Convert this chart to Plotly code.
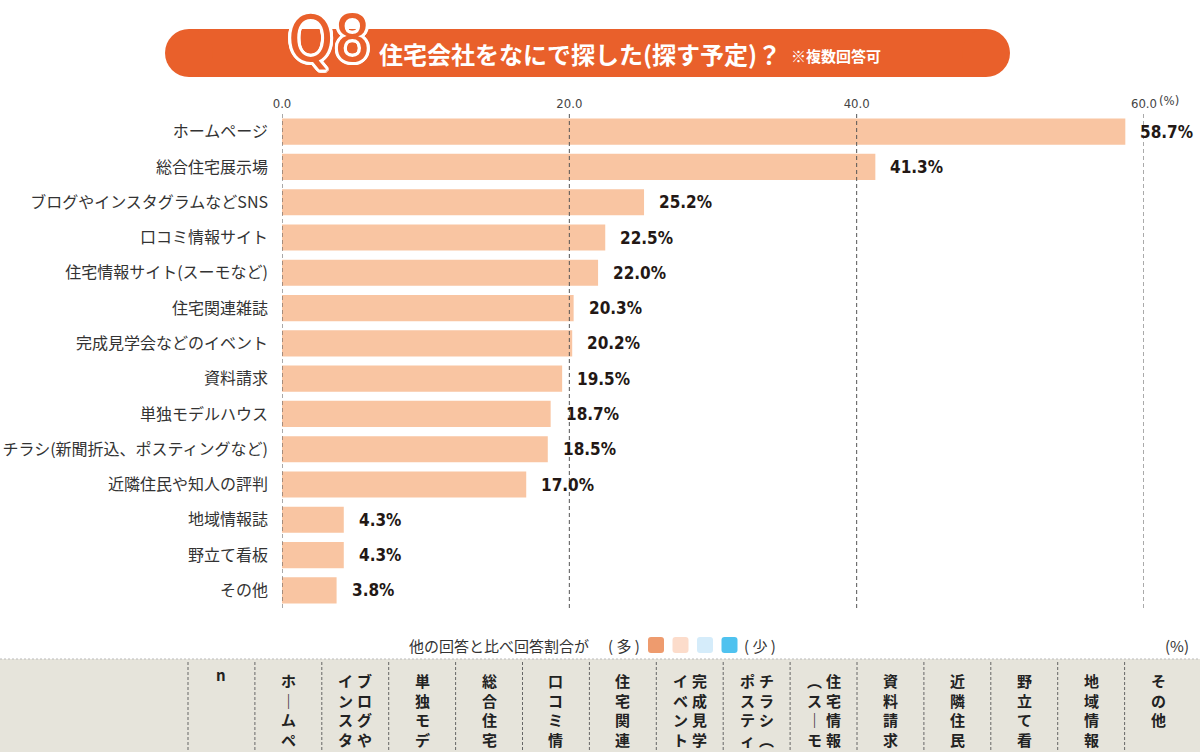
import plotly.graph_objects as go

# ---------------- data ----------------
categories = ["ホームページ", "総合住宅展示場", "ブログやインスタグラムなどSNS", "口コミ情報サイト",
              "住宅情報サイト(スーモなど)", "住宅関連雑誌", "完成見学会などのイベント", "資料請求",
              "単独モデルハウス", "チラシ(新聞折込、ポスティングなど)", "近隣住民や知人の評判",
              "地域情報誌", "野立て看板", "その他"]
values = [58.7, 41.3, 25.2, 22.5, 22.0, 20.3, 20.2, 19.5, 18.7, 18.5, 17.0, 4.3, 4.3, 3.8]
tick_vals = [0, 20, 40, 60]
tick_text = ["0.0", "20.0", "40.0", "60.0"]

# table header columns (each entry: vertical text columns, right-to-left)
table_headers = [["n"], ["ホームページ"], ["ブログや", "インスタグラム"], ["単独モデルハウス"],
                 ["総合住宅展示場"], ["口コミ情報サイト"], ["住宅関連雑誌"],
                 ["完成見学会などの", "イベント"], ["チラシ︵新聞折込、", "ポスティングなど︶"],
                 ["住宅情報サイト", "︵スーモなど︶"], ["資料請求"], ["近隣住民や知人の評判"],
                 ["野立て看板"], ["地域情報誌"], ["その他"]]
legend_colors = ["#EE9B6E", "#FCDCCB", "#D5ECFA", "#4FC2EF"]

title_main = "住宅会社をなにで探した(探す予定)？"
title_note = "※複数回答可"

# ---------------- geometry helpers ----------------
W, H = 1200, 752
L, R, T, B = 282, 1144, 114, 608
JP = "Noto Sans CJK JP"
NUM = "DejaVu Sans Condensed, Liberation Sans Narrow, Roboto Condensed, Roboto"
ORANGE = "#E9602B"


def px_x(px):
    return (px - L) / (R - L)


def px_y(py):
    return (B - py) / (B - T)


fig = go.Figure(go.Bar(
    x=values, y=categories, orientation="h",
    marker=dict(color="#F9C5A2", line=dict(width=0)),
    width=0.74, hoverinfo="skip"))

shapes = []
annotations = []

# dashed gridlines drawn above bars
for v in tick_vals:
    shapes.append(dict(type="line", xref="x", yref="paper", x0=v, x1=v, y0=0, y1=1.0,
                       line=dict(color="#555555", width=1, dash="4px,3px"), layer="above"))

# value labels
for c, v in zip(categories, values):
    annotations.append(dict(x=v, y=c, xref="x", yref="y", text=f"{v:.1f}%", showarrow=False,
                            xanchor="left", xshift=13,
                            font=dict(family=NUM, size=17, color="#231815", weight="bold")))

# (%) after 60.0
annotations.append(dict(x=60, y=px_y(101), xref="x", yref="paper", text="(%)", showarrow=False,
                        xanchor="left", xshift=13, yanchor="middle",
                        font=dict(family=NUM, size=13, color="#444")))

# ---------------- title pill ----------------
def rect_px(x0, y0, x1, y1, color, **kw):
    d = dict(type="rect", xref="paper", yref="paper",
             x0=px_x(x0), x1=px_x(x1), y0=px_y(y1), y1=px_y(y0),
             fillcolor=color, line=dict(width=0), layer="above")
    d.update(kw)
    return d


def rrect_path(x0, y0, x1, y1, r):
    pts = []
    pts.append(f"M{px_x(x0 + r)},{px_y(y0)}")
    pts.append(f"L{px_x(x1 - r)},{px_y(y0)}")
    pts.append(f"Q{px_x(x1)},{px_y(y0)} {px_x(x1)},{px_y(y0 + r)}")
    pts.append(f"L{px_x(x1)},{px_y(y1 - r)}")
    pts.append(f"Q{px_x(x1)},{px_y(y1)} {px_x(x1 - r)},{px_y(y1)}")
    pts.append(f"L{px_x(x0 + r)},{px_y(y1)}")
    pts.append(f"Q{px_x(x0)},{px_y(y1)} {px_x(x0)},{px_y(y1 - r)}")
    pts.append(f"L{px_x(x0)},{px_y(y0 + r)}")
    pts.append(f"Q{px_x(x0)},{px_y(y0)} {px_x(x0 + r)},{px_y(y0)}")
    return " ".join(pts) + " Z"


shapes.append(rect_px(189, 29, 986, 77, ORANGE))
shapes.append(dict(type="circle", xref="paper", yref="paper", x0=px_x(165), x1=px_x(213),
                   y0=px_y(77), y1=px_y(29), fillcolor=ORANGE, line=dict(width=0), layer="above"))
shapes.append(dict(type="circle", xref="paper", yref="paper", x0=px_x(962), x1=px_x(1010),
                   y0=px_y(77), y1=px_y(29), fillcolor=ORANGE, line=dict(width=0), layer="above"))

outline = ", ".join(f"{dx}px {dy}px 0 #ffffff" for dx, dy in
                    [(3, 0), (-3, 0), (0, 3), (0, -3), (2, 2), (-2, -2), (2, -2), (-2, 2),
                     (3, 1), (-3, 1), (3, -1), (-3, -1), (1, 3), (1, -3), (-1, 3), (-1, -3)])
for ch, cx in (("Q", 310), ("8", 352)):
    annotations.append(dict(x=px_x(cx), y=px_y(39), xref="paper", yref="paper", text=ch,
                            showarrow=False, xanchor="center", yanchor="middle",
                            font=dict(family="DejaVu Sans Condensed, Roboto", size=64,
                                      color=ORANGE, weight=300, shadow=outline)))
annotations.append(dict(x=px_x(377), y=px_y(54), xref="paper", yref="paper", text=title_main,
                        showarrow=False, xanchor="left", yanchor="middle",
                        font=dict(family=JP, size=24, color="white", weight="bold")))
annotations.append(dict(x=px_x(789), y=px_y(56), xref="paper", yref="paper", text=title_note,
                        showarrow=False, xanchor="left", yanchor="middle",
                        font=dict(family=JP, size=15, color="white", weight="bold")))

# ---------------- legend row ----------------
annotations.append(dict(x=px_x(591), y=px_y(645), xref="paper", yref="paper",
                        text="他の回答と比べ回答割合が", showarrow=False, xanchor="right",
                        yanchor="middle", font=dict(family=JP, size=15, color="#333")))
annotations.append(dict(x=px_x(606), y=px_y(645), xref="paper", yref="paper", text="( 多 )",
                        showarrow=False, xanchor="left", yanchor="middle",
                        font=dict(family=JP, size=15, color="#333")))
for i, col in enumerate(legend_colors):
    x0 = 648 + i * 24.5
    shapes.append(dict(type="path", xref="paper", yref="paper",
                       path=rrect_path(x0, 637, x0 + 16, 653, 3),
                       fillcolor=col, line=dict(width=0), layer="above"))
annotations.append(dict(x=px_x(742), y=px_y(645), xref="paper", yref="paper", text="( 少 )",
                        showarrow=False, xanchor="left", yanchor="middle",
                        font=dict(family=JP, size=15, color="#333")))
annotations.append(dict(x=px_x(1191), y=px_y(645), xref="paper", yref="paper", text="(%)",
                        showarrow=False, xanchor="right", yanchor="middle",
                        font=dict(family=JP, size=15, color="#333")))

# ---------------- table header band ----------------
shapes.append(rect_px(0, 659, 1200, 760, "#E6E4DB"))
shapes.append(dict(type="line", xref="paper", yref="paper", x0=px_x(0), x1=px_x(1200),
                   y0=px_y(659), y1=px_y(659),
                   line=dict(color="#BBBBBB", width=1, dash="2px,2px"), layer="above"))
col_left, col_w = 188, 66.9
for i in range(len(table_headers)):
    xs = col_left + i * col_w
    shapes.append(dict(type="line", xref="paper", yref="paper", x0=px_x(xs), x1=px_x(xs),
                       y0=px_y(662), y1=px_y(760),
                       line=dict(color="#666666", width=1, dash="3px,2px"), layer="above"))


def vertical(s):
    # only the top of each header is visible above the page edge
    return "<br>".join("｜" if ch == "ー" else ch for ch in s[:4])


for i, cols in enumerate(table_headers):
    cx = col_left + (i + 0.5) * col_w
    if cols == ["n"]:
        annotations.append(dict(x=px_x(cx), y=px_y(662), xref="paper", yref="paper", text="n",
                                showarrow=False, xanchor="center", yanchor="top",
                                font=dict(family=JP, size=15, color="#222", weight="bold")))
        continue
    n = len(cols)
    for j, s in enumerate(cols):
        off = 0 if n == 1 else (9.5 if j == 0 else -9.5)
        annotations.append(dict(x=px_x(cx + off), y=px_y(669), xref="paper", yref="paper",
                                text=vertical(s), showarrow=False, xanchor="center",
                                yanchor="top", align="center", borderpad=0,
                                font=dict(family=JP, size=15, color="#222", weight="bold")))

fig.update_layout(
    template="none",
    width=W, height=H,
    margin=dict(l=L, r=W - R, t=T, b=H - B, pad=0),
    paper_bgcolor="white", plot_bgcolor="white",
    showlegend=False,
    bargap=0.26,
    xaxis=dict(range=[0, 60], side="top", tickvals=tick_vals, ticktext=tick_text,
               showgrid=False, zeroline=False, showline=False, ticks="", automargin=False,
               tickfont=dict(family=NUM, size=13, color="#444"),
               ticklabelstandoff=2),
    yaxis=dict(range=[13.5, -0.5], showgrid=False, zeroline=False, showline=False, ticks="",
               automargin=False, ticklabelstandoff=13,
               tickfont=dict(family=JP, size=16, color="#333")),
    shapes=shapes,
    annotations=annotations,
)

fig.write_html("out.html", config={"displayModeBar": False},
               post_script="document.body.style.margin='0px';document.body.style.overflow='hidden';")
